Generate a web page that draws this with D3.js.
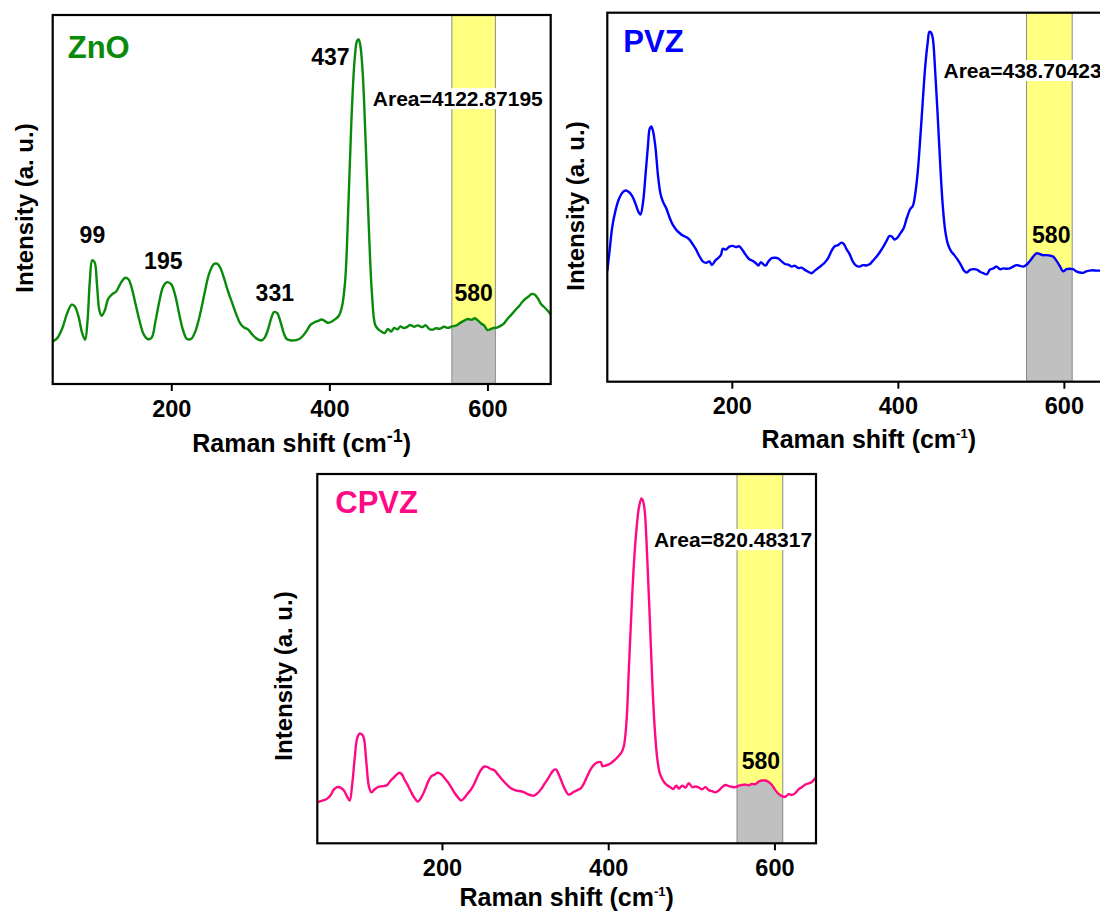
<!DOCTYPE html>
<html>
<head>
<meta charset="utf-8">
<script src="https://cdn.jsdelivr.net/npm/d3@7"></script>
<style>
  body { margin: 0; background: #ffffff; }
  svg { display: block; }
  text { font-family: "Liberation Sans", Arial, Helvetica, sans-serif; font-weight: bold; }
</style>
</head>
<body>
<svg id="chart" width="1100" height="914"></svg>
<script>
// ---- Raman spectra: shift (cm-1) and relative intensity (a. u.) ----
const shiftZnO = [50,56,62,68,74,78,83,87,91,94,97,100,103,106,109,112,116,120,125,130,134,138,142,146,150,155,160,165,170,175,180,185,190,195,200,205,210,215,220,225,230,236,242,248,254,258,262,267,272,277,282,287,292,297,302,308,314,318,322,326,330,334,338,342,346,352,358,364,370,376,381,386,390,394,398,402,407,412,416,420,424,428,432,435,437,439,442,446,450,454,458,462,466,470,474,478,482,486,490,494,498,502,507,512,517,522,526,530,535,540,545,550,555,560,565,570,575,580,584,588,592,596,600,604,608,612,616,620,624,628,632,636,640,644,648,652,656,660,664,668,672,676,680];
const intensityZnO = [11.5,12.5,15,19,21.5,21,18,14,12,17,28,33.5,33,27,20,18.5,20,23,24.3,25,26.5,28,28.8,28.3,26,21.5,17,13.5,12.2,12.5,17,22.5,26.5,27.6,27,24,19,14.5,12.2,12.2,14,18.5,24.5,30,32.5,32.6,31.5,28.5,25,22,19,16.5,15.3,14.8,13.5,12.3,11.8,12.5,14.5,17.5,19.5,19.2,17,14,12.2,11.8,11.9,12.5,14,16,16.7,17.1,17.5,17.1,16.6,16.8,17.5,18.5,21,28,48,72,88,93,93.4,92,85,65,42,24,16,14.8,14.2,13.8,14.9,14.2,15.2,14.8,15.6,15.2,15.4,16,15.5,15.9,15.4,15.9,15,14.7,15.1,15,15.5,15.2,15.6,15.8,16.5,17.1,17.6,17.4,17.8,17.2,16.4,15.8,14.6,14.9,15.2,15.3,15.7,16.2,17.3,18.3,19.2,20.2,21.1,22.2,23.1,23.7,24.4,24.2,23.1,21.6,20.8,19.9,18.8];

const shiftPVZ = [50,53,56,60,64,68,72,76,80,84,88,90,93,96,99,101,103,105,108,111,114,117,121,125,129,133,137,141,145,149,153,157,161,165,169,173,176,180,184,187,189,193,197,201,205,209,213,217,221,225,229,232,235,238,241,244,248,252,256,260,264,268,272,276,280,284,288,292,296,300,304,308,312,316,320,324,328,332,335,338,342,346,350,354,358,362,366,370,374,378,382,386,390,393,396,399,403,407,411,415,418,421,424,427,430,433,436,438,440,442,445,448,451,454,457,460,464,468,472,476,480,483,487,491,495,499,503,507,511,515,519,523,527,531,535,539,543,547,551,555,559,563,567,571,575,579,583,587,591,595,599,603,607,611,615,619,623,627,631,635,639,643,647,651,655,660,665,670,675,680];
const intensityPVZ = [30,36,42,46.5,49.5,51.2,51.8,51.4,50.3,48.2,45.8,45.3,48.5,56,64,68.5,69.2,68,63.5,56,51,48.8,47,44.5,42.5,41.2,40.3,39.6,39.2,38.5,37.2,35.8,34,32.6,32.2,32.6,31.6,32.8,33.6,34.4,36,35.8,36.6,36.8,36.5,36.7,35.6,34.3,33.2,32.8,32.1,31.5,32.4,31.8,31.5,32.6,33.5,33.6,33.4,32.6,31.9,31.7,31.2,31.4,30.8,30.9,30.3,29.8,29.4,30.1,30.8,31.5,32.3,33.5,35.4,36.7,37,37.7,37.3,36,34.5,32.5,31.4,31.2,31.6,31.5,31.8,32.8,33.8,35,36.4,38,39.5,39.3,38.5,38.9,40.2,41.6,44.5,46.8,47.6,51,57,66,76,85.5,92,94.8,94.6,93.2,84,72,59,48,41,37.5,35.4,34.3,33.1,31.6,30,29.6,30.3,30.5,30.4,29.8,29.4,29.1,30.4,30.7,31.2,30.5,30.7,30.6,30.7,31.2,31.6,31.4,31.2,31.7,32.7,33.9,34.8,34.6,34.3,34.3,34.2,33.9,32.8,31.4,29.9,30.5,30.6,30.5,29.9,29.6,29.5,29.9,30.1,30.2,30.1,30.1,30,30.3,30.1,30.4,30.2,30.5,30.3,30.4];

const shiftCPVZ = [50,54,58,62,66,70,74,78,82,86,89,92,95,98,101,104,106,109,112,115,118,122,126,130,134,138,142,146,149,152,155,158,162,166,171,175,179,183,187,191,195,199,203,207,211,215,219,223,227,231,235,239,243,247,251,255,259,263,267,271,275,279,283,287,291,295,299,303,307,311,315,319,323,327,331,334,337,340,344,348,352,355,359,363,367,371,375,379,383,387,391,393,396,400,404,408,412,416,419,422,425,428,431,434,437,440,442,444,447,450,453,456,459,462,466,470,474,478,482,485,489,493,497,501,505,509,513,517,521,525,529,533,537,541,545,549,553,557,561,565,569,573,577,581,585,589,593,597,601,605,609,613,617,621,625,629,633,637,641,645,650];
const intensityCPVZ = [11.1,11.4,11.7,12.1,13,14.6,15.2,15.1,14.3,12.6,11.6,16,23,28.5,29.7,29.4,28.5,22,15.5,13.8,14.4,15.1,15.4,15.5,15.8,16.9,17.8,18.7,19.1,18.6,17.2,16.1,14.3,12.6,11.3,12.4,14.2,16.5,18.1,18.6,19.1,18.7,17.7,16.6,15.2,13.7,12.5,11.6,12.3,13.5,14.6,16.2,18.2,19.9,20.8,20.6,20.1,19.8,18.7,17.6,16.6,15.7,14.9,14.5,14.2,14.1,13.8,13.3,13,12.9,13.6,14.6,16,17.3,18.8,19.7,20,18.9,16.7,14.6,13.2,13.4,14,14.4,14.9,16.3,18.3,20.1,21.3,21.9,22,20.9,21,21.3,21.8,22.6,23.5,24.6,26.5,33,48,63,76,85,91,93.4,92.6,89.8,77,61,44,31,23,19,17,15.9,15.3,14.7,15.6,14.8,15.6,15.1,16.3,15.2,15.4,15.1,14.6,15.2,14.4,14.1,13.8,14.3,15.2,15.8,15.5,15.3,15.2,15.6,15.8,15.9,15.7,16.1,16,16.7,17,17,16.6,15.8,14.4,13.4,12.8,12.6,13.3,13.1,13.6,14.6,15.2,15.9,16.2,16.6,17.9];

// Axis ticks, integration window and annotations
const tickValues = [200, 400, 600];
const bandRange = [555, 610];
const sampleNames = ["ZnO", "PVZ", "CPVZ"];
const bandAreas = ["4122.87195", "438.70423", "820.48317"];
const peaksZnO = [99, 195, 331, 437, 580];
const peaksPVZ = [580];
const peaksCPVZ = [580];

// ---- Panel layout ----
const panels = [
  {
    name: sampleNames[0], color: "#0a8a0a", shift: shiftZnO, intensity: intensityZnO,
    area: bandAreas[0], peaks: peaksZnO,
    left: 52.7, top: 15, width: 498, bottom: 384, domain: [50, 680],
    titleDx: 15, titleDy: 43, yTitleGap: 20, yTitleCy: 208, xTitleGap: 68,
    areaY: 75.3, supSize: 18, supDy: -10,
    peakPos: { 99: [1, 38.2, "middle"], 195: [-4, 31.2, "middle"], 331: [0, 22.5, "middle"],
               437: [-9, 86.4, "end"], 580: [2, 22.5, "middle"] }
  },
  {
    name: sampleNames[1], color: "#0000ff", shift: shiftPVZ, intensity: intensityPVZ,
    area: bandAreas[1], peaks: peaksPVZ,
    left: 607.3, top: 12.7, width: 523, bottom: 381.7, domain: [50, 680],
    titleDx: 16, titleDy: 39, yTitleGap: 23, yTitleCy: 206, xTitleGap: 66,
    areaY: 82.3, supSize: 13, supDy: -10,
    peakPos: { 580: [4, 37.6, "middle"] }
  },
  {
    name: sampleNames[2], color: "#ff0a84", shift: shiftCPVZ, intensity: intensityCPVZ,
    area: bandAreas[2], peaks: peaksCPVZ,
    left: 317.3, top: 474, width: 498.7, bottom: 843.3, domain: [50, 650],
    titleDx: 18, titleDy: 39, yTitleGap: 25, yTitleCy: 676, xTitleGap: 63,
    areaY: 80.2, supSize: 13, supDy: -10,
    peakPos: { 580: [3, 20.1, "middle"] }
  }
];

const svg = d3.select("#chart");

panels.forEach((p, i) => {
  const h = p.bottom - p.top;
  const x = d3.scaleLinear().domain(p.domain).range([0, p.width]);
  const y = d3.scaleLinear().domain([0, 100]).range([h, 0]);
  const pts = p.shift.map((s, k) => [s, p.intensity[k]]);

  const g = svg.append("g").attr("transform", `translate(${p.left},${p.top})`);
  const defs = svg.append("defs");

  defs.append("clipPath").attr("id", `frame-${i}`)
    .append("rect").attr("width", p.width).attr("height", h);
  defs.append("clipPath").attr("id", `band-${i}`)
    .append("rect")
    .attr("x", x(bandRange[0])).attr("width", x(bandRange[1]) - x(bandRange[0]))
    .attr("y", 0).attr("height", h);

  // integration window: yellow above the spectrum, grey beneath it
  g.append("rect")
    .attr("x", x(bandRange[0])).attr("width", x(bandRange[1]) - x(bandRange[0]))
    .attr("y", 0).attr("height", h)
    .attr("fill", "#ffff80");

  const area = d3.area()
    .x(d => x(d[0])).y0(h).y1(d => y(d[1]))
    .curve(d3.curveCatmullRom.alpha(0.5));
  g.append("path").datum(pts)
    .attr("clip-path", `url(#band-${i})`)
    .attr("d", area).attr("fill", "#c0c0c0");

  bandRange.forEach(b => {
    g.append("line")
      .attr("x1", x(b)).attr("x2", x(b)).attr("y1", 0).attr("y2", h)
      .attr("stroke", "#8a8a8a").attr("stroke-width", 1);
  });

  // spectrum
  const line = d3.line()
    .x(d => x(d[0])).y(d => y(d[1]))
    .curve(d3.curveCatmullRom.alpha(0.5));
  g.append("path").datum(pts)
    .attr("clip-path", `url(#frame-${i})`)
    .attr("d", line)
    .attr("fill", "none").attr("stroke", p.color)
    .attr("stroke-width", 2.4).attr("stroke-linejoin", "round");

  // integrated area label on a white box
  const areaText = g.append("text")
    .attr("x", x(455)).attr("y", y(p.areaY))
    .attr("font-size", 21).attr("fill", "#000")
    .text(`Area=${p.area}`);
  const bb = areaText.node().getBBox();
  g.insert("rect", () => areaText.node())
    .attr("x", bb.x - 1).attr("y", bb.y + 1)
    .attr("width", bb.width + 2).attr("height", bb.height - 2)
    .attr("fill", "#ffffff");

  // peak positions
  p.peaks.forEach(v => {
    const [dx, yv, anchor] = p.peakPos[v];
    g.append("text")
      .attr("x", x(v) + dx).attr("y", y(yv))
      .attr("text-anchor", anchor)
      .attr("font-size", 23).attr("fill", "#000")
      .text(String(v));
  });

  // sample name
  g.append("text")
    .attr("x", p.titleDx).attr("y", p.titleDy)
    .attr("font-size", 31).attr("fill", p.color)
    .text(p.name);

  // x axis
  const axis = g.append("g")
    .attr("transform", `translate(0,${h})`)
    .call(d3.axisBottom(x).tickValues(tickValues).tickSize(7).tickPadding(9).tickFormat(d3.format("d")));
  axis.select(".domain").remove();
  axis.selectAll(".tick line").attr("stroke", "#000").attr("stroke-width", 2);
  axis.selectAll(".tick text")
    .attr("font-size", 23.5).attr("fill", "#000")
    .attr("font-family", "\"Liberation Sans\", Arial, sans-serif").attr("font-weight", "bold");

  // frame
  g.append("rect")
    .attr("width", p.width).attr("height", h)
    .attr("fill", "none").attr("stroke", "#000").attr("stroke-width", 2.2);

  // axis titles
  const xt = g.append("text")
    .attr("x", p.width / 2).attr("y", h + p.xTitleGap)
    .attr("text-anchor", "middle").attr("font-size", 25).attr("fill", "#000");
  xt.append("tspan").text("Raman shift (cm");
  xt.append("tspan").attr("font-size", p.supSize).attr("dy", p.supDy).text("-1");
  xt.append("tspan").attr("dy", -p.supDy).text(")");

  svg.append("text")
    .attr("transform", `translate(${p.left - p.yTitleGap},${p.yTitleCy}) rotate(-90)`)
    .attr("text-anchor", "middle").attr("font-size", 24).attr("fill", "#000")
    .text("Intensity (a. u.)");
});
</script>
</body>
</html>
